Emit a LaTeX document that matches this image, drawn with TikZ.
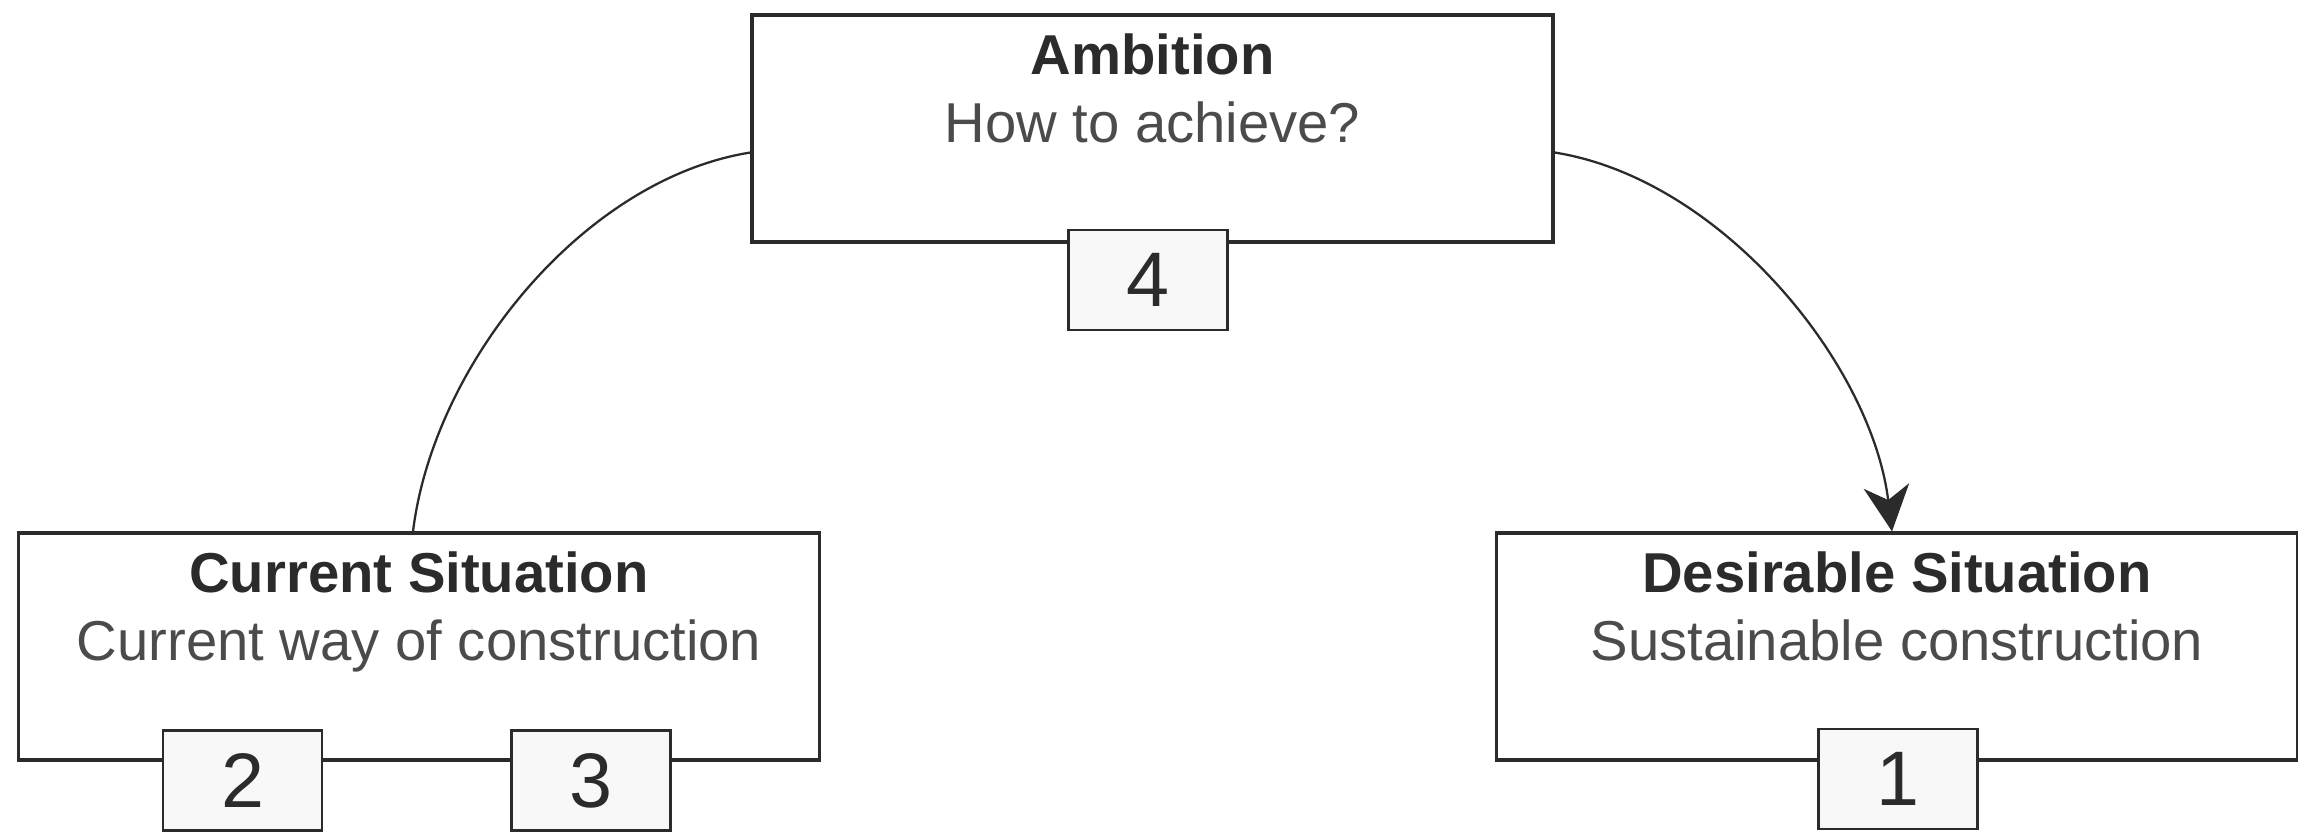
\documentclass[tikz,border=0pt]{standalone}
\usepackage{fontspec}
\setmainfont{Liberation Sans}
\usepackage{xcolor}
\usetikzlibrary{arrows.meta,positioning}
\definecolor{ink}{HTML}{2B2B2B}
\definecolor{numfill}{HTML}{F8F8F8}

\begin{document}
\begin{tikzpicture}[>=Stealth,
  bigbox/.style={draw=ink,line width=0.9pt,minimum width=8.01cm,minimum height=2.27cm,inner sep=0pt},
  numbox/.style={draw=ink,line width=0.7pt,fill=numfill,minimum width=1.59cm,minimum height=1.0cm,inner sep=0pt,font=\fontsize{22}{22}\selectfont,text=ink},
  head/.style={font=\fontsize{16}{19}\selectfont\bfseries,text=ink,anchor=base},
  sub/.style={font=\fontsize{16}{19}\selectfont,text=ink!85,anchor=base},
  link/.style={draw=ink,line width=0.65pt}]
\useasboundingbox (0,0) rectangle (22.98,8.33);
% the three situations
\node[bigbox] (amb) at (11.525,7.045) {};
\node[bigbox] (cur) at (4.19,1.865) {};
\node[bigbox] (des) at (18.97,1.865) {};
\node[head] (ambt) at ([yshift=-0.61cm]amb.north) {Ambition};
\node[sub] (ambs) at ([yshift=-1.29cm]amb.north) {How to achieve?};
\node[head] (curt) at ([yshift=-0.61cm]cur.north) {Current Situation};
\node[sub] (curs) at ([yshift=-1.29cm]cur.north) {Current way of construction};
\node[head] (dest) at ([yshift=-0.61cm]des.north) {Desirable Situation};
\node[sub] (dess) at ([yshift=-1.29cm]des.north) {Sustainable construction};
% curved links
\draw[link] ([yshift=-0.24cm]amb.west) to[out=189,in=83,looseness=0.85] ([xshift=-0.06cm]cur.north);
\draw[link,-{Stealth[length=13pt,width=13pt,inset=4pt]}] ([yshift=-0.24cm]amb.east) to[out=-9,in=97,looseness=0.85] ([xshift=-0.05cm]des.north);
% numbered tabs
\node[numbox] (n4) at (11.48,5.53) {4};
\node[numbox] (n2) at (2.425,0.525) {2};
\node[numbox] (n3) at (5.91,0.525) {3};
\node[numbox] (n1) at (18.98,0.54) {1};
\end{tikzpicture}
\end{document}
